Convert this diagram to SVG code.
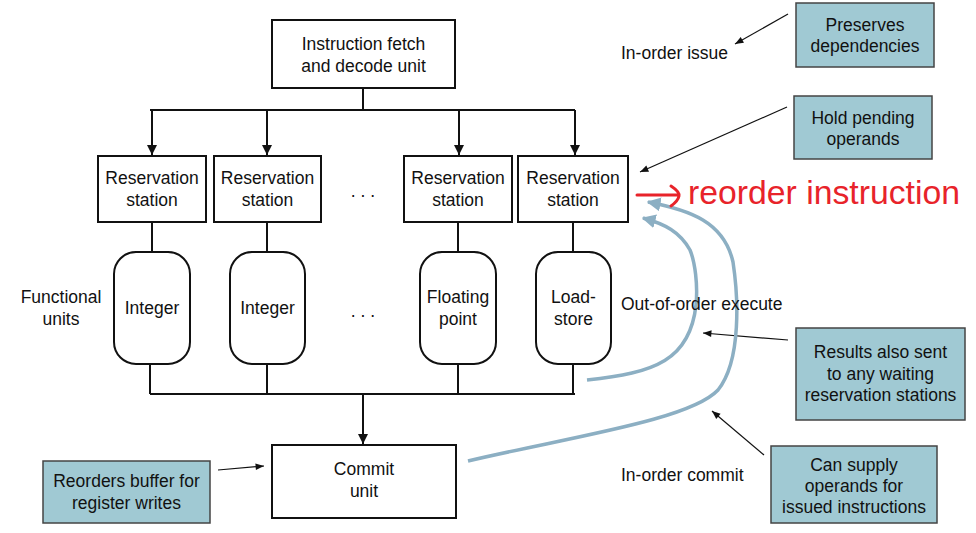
<svg xmlns="http://www.w3.org/2000/svg" width="976" height="533" viewBox="0 0 976 533">
<style>
text{font-family:"Liberation Sans",Arial,sans-serif;font-size:17.5px;fill:#111;text-anchor:middle}
.box{fill:#fff;stroke:#111;stroke-width:2}
.fu{fill:#fff;stroke:#111;stroke-width:2}
.note{fill:#a0c9d3;stroke:#444;stroke-width:1.5}
.wire{fill:none;stroke:#111;stroke-width:2}
.thin{fill:none;stroke:#111;stroke-width:1.2}
.blue{fill:none;stroke:#8cafc3;stroke-width:3.5}
.lbl{text-anchor:start}
</style>
<defs>
<marker id="ah" viewBox="0 0 10 10" refX="10" refY="5" markerWidth="5" markerHeight="6" markerUnits="strokeWidth" orient="auto"><path d="M0,0 L10,5 L0,10 z" fill="#111"/></marker>
<marker id="ahs" viewBox="0 0 10 10" refX="10" refY="5" markerWidth="8" markerHeight="7" markerUnits="strokeWidth" orient="auto"><path d="M0,1 L10,5 L0,9 z" fill="#111"/></marker>
<marker id="ahb" viewBox="0 0 10 10" refX="9" refY="5" markerWidth="4" markerHeight="4" markerUnits="strokeWidth" orient="auto"><path d="M0,0 L10,5 L0,10 z" fill="#8cafc3"/></marker>
</defs>
<g id="connectors">
<path class="wire" d="M363,88 V110 M150,110 H575"/>
<path class="wire" marker-end="url(#ah)" d="M152,110 V155"/>
<path class="wire" marker-end="url(#ah)" d="M267,110 V155"/>
<path class="wire" marker-end="url(#ah)" d="M459,110 V155"/>
<path class="wire" marker-end="url(#ah)" d="M575,110 V155"/>
<path class="wire" d="M152,222 V252 M267,222 V252 M458,222 V252 M573,222 V252"/>
<path class="wire" d="M150,364 V394 M267,364 V394 M458,364 V394 M573,364 V394 M150,394 H575"/>
<path class="wire" marker-end="url(#ah)" d="M363,394 V444"/>
<path class="thin" marker-end="url(#ahs)" d="M788,14 L735,44"/>
<path class="thin" marker-end="url(#ahs)" d="M787,107 L640,172"/>
<path class="thin" marker-end="url(#ahs)" d="M788,340 L703,333"/>
<path class="thin" marker-end="url(#ahs)" d="M764,455 L712,411"/>
<path class="thin" marker-end="url(#ahs)" d="M218,470 L264,466"/>
<path class="blue" marker-end="url(#ahb)" d="M587,380 C655,373 690,360 696,305 C698,285 695,262 690,250 C680,232 665,224 643,218"/>
<path class="blue" marker-end="url(#ahb)" d="M468,461 C570,437 690,420 718,390 C742,360 738,295 733,262 C724,222 690,210 648,202"/>
</g>
<g id="fetch"><rect class="box" x="272" y="20" width="183" height="68"/><text x="363.5" y="50">Instruction fetch</text><text x="363.5" y="72">and decode unit</text></g>
<g id="rs1"><rect class="box" x="98" y="156" width="108" height="66"/><text x="152" y="184">Reservation</text><text x="152" y="206">station</text></g>
<g id="rs2"><rect class="box" x="214" y="156" width="107" height="66"/><text x="267.5" y="184">Reservation</text><text x="267.5" y="206">station</text></g>
<g id="rs3"><rect class="box" x="404" y="156" width="108" height="66"/><text x="458" y="184">Reservation</text><text x="458" y="206">station</text></g>
<g id="rs4"><rect class="box" x="518" y="156" width="110" height="66"/><text x="573" y="184">Reservation</text><text x="573" y="206">station</text></g>
<text x="363" y="197">. . .</text>
<g id="fu1"><rect class="fu" x="114" y="252" width="76" height="112" rx="22"/><text x="152" y="314">Integer</text></g>
<g id="fu2"><rect class="fu" x="230" y="252" width="75" height="112" rx="22"/><text x="267.5" y="314">Integer</text></g>
<g id="fu3"><rect class="fu" x="420" y="252" width="76" height="112" rx="22"/><text x="458" y="303">Floating</text><text x="458" y="325">point</text></g>
<g id="fu4"><rect class="fu" x="536" y="252" width="75" height="112" rx="22"/><text x="573.5" y="303">Load-</text><text x="573.5" y="325">store</text></g>
<text x="363" y="317">. . .</text>
<g id="fulabel"><text x="61" y="303">Functional</text><text x="61" y="325">units</text></g>
<g id="commit"><rect class="box" x="272" y="445" width="184" height="73"/><text x="364" y="475">Commit</text><text x="364" y="497">unit</text></g>
<g id="n-preserves"><rect class="note" x="796" y="3" width="138" height="64"/><text x="865" y="31">Preserves</text><text x="865" y="52">dependencies</text></g>
<g id="n-hold"><rect class="note" x="794" y="96" width="138" height="63"/><text x="863" y="124">Hold pending</text><text x="863" y="145">operands</text></g>
<g id="n-results"><rect class="note" x="796" y="328" width="169" height="92"/><text x="880.5" y="358">Results also sent</text><text x="880.5" y="380">to any waiting</text><text x="880.5" y="401">reservation stations</text></g>
<g id="n-supply"><rect class="note" x="771" y="446" width="166" height="77"/><text x="854" y="471">Can supply</text><text x="854" y="492">operands for</text><text x="854" y="513">issued instructions</text></g>
<g id="n-reorders"><rect class="note" x="43" y="461" width="167" height="62"/><text x="126.5" y="487">Reorders buffer for</text><text x="126.5" y="509">register writes</text></g>
<text class="lbl" x="621" y="59">In-order issue</text>
<text class="lbl" x="621" y="310">Out-of-order execute</text>
<text class="lbl" x="621" y="481">In-order commit</text>
<g id="red-note">
<path d="M637,195 H679 M671,186 Q680,192 679,196 Q678,201 671,206" fill="none" stroke="#e8232a" stroke-width="3" stroke-linecap="round"/>
<text class="lbl" x="688" y="204" style="font-size:34px;fill:#e8232a" textLength="272" lengthAdjust="spacingAndGlyphs">reorder instruction</text>
</g>
</svg>
